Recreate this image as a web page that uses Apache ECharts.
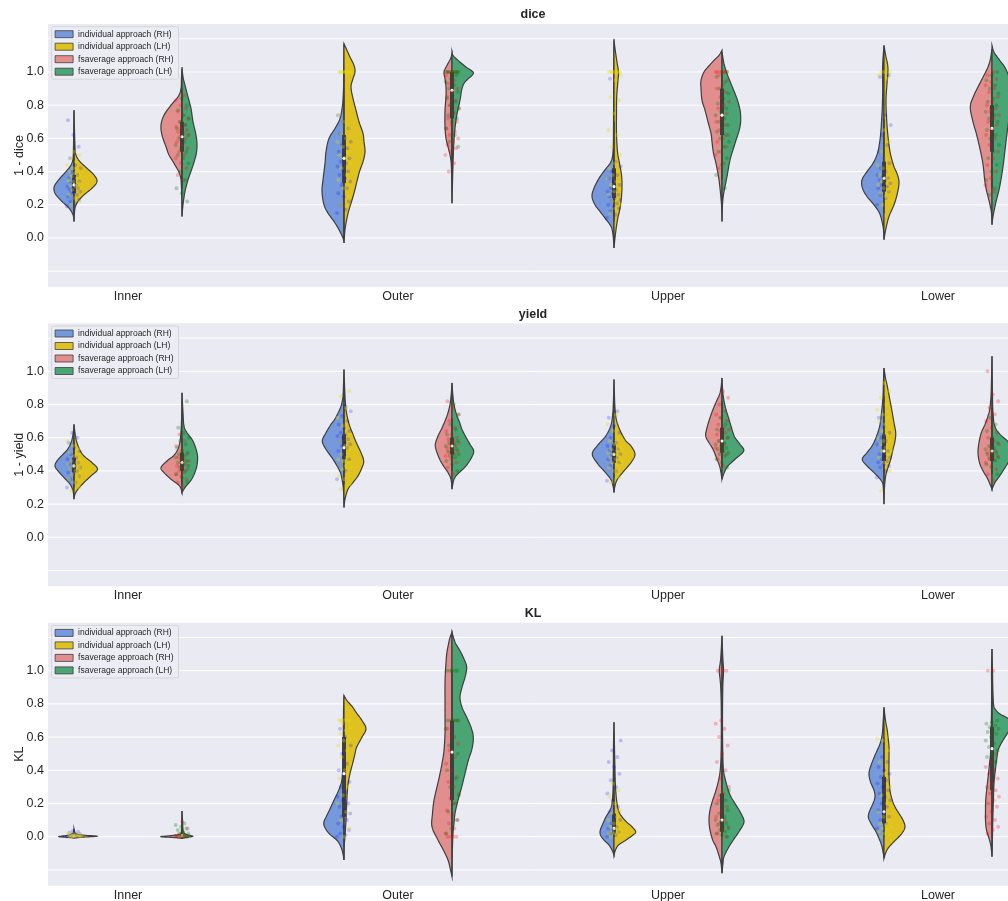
<!DOCTYPE html>
<html><head><meta charset="utf-8">
<script src="https://cdn.jsdelivr.net/npm/echarts@6/dist/echarts.min.js"></script>
<style>html,body{margin:0;padding:0;background:#fff}#chart{width:1008px;height:901px}</style>
</head><body><div id="chart"></div>
<script>
// ---------------- data ----------------
const categories = ['Inner', 'Outer', 'Upper', 'Lower'];
const panelTitles = ['dice', 'yield', 'KL'];
const yAxisNames = ['1 - dice', '1 - yield', 'KL'];
const yTickValues = [0, 0.2, 0.4, 0.6, 0.8, 1.0];
const gridValues = [-0.2, 0, 0.2, 0.4, 0.6, 0.8, 1.0, 1.2];
const seriesNames = ['individual approach (RH)', 'individual approach (LH)', 'fsaverage approach (RH)', 'fsaverage approach (LH)'];

// violin half profiles: per category, [value, density] pairs
const diceIndRH = [
  [[0.10,0],[0.14,1],[0.18,5],[0.22,12],[0.26,18],[0.29,20],[0.32,19],[0.36,14],[0.40,8],[0.44,3],[0.48,1],[0.55,0.5],[0.77,0]],
  [[-0.03,0],[0.0,1],[0.05,5],[0.10,10],[0.15,16],[0.20,20],[0.28,22],[0.35,21],[0.45,19],[0.52,18],[0.60,15],[0.66,9],[0.72,4],[0.80,1.5],[0.90,0.5],[1.0,0.3],[1.17,0]],
  [[-0.06,0],[0.02,1],[0.07,3],[0.12,9],[0.16,14],[0.20,19],[0.25,22],[0.30,20],[0.36,15],[0.41,9],[0.46,3],[0.52,1],[0.65,0.5],[1.0,0.3],[1.2,0]],
  [[-0.01,0],[0.05,0.5],[0.10,2],[0.15,4.5],[0.20,10],[0.25,17],[0.30,21.5],[0.35,22],[0.40,17],[0.45,11],[0.51,6.5],[0.57,4.5],[0.63,3.3],[0.70,2.5],[0.79,1.7],[0.90,1.3],[1.0,1.5],[1.08,1],[1.16,0]]
];
const diceIndLH = [
  [[0.10,0],[0.18,1],[0.22,4],[0.26,10],[0.30,18],[0.34,23],[0.38,20],[0.42,13],[0.46,6],[0.50,2],[0.55,1],[0.77,0]],
  [[-0.03,0],[0.05,1],[0.12,3],[0.17,5],[0.27,10],[0.39,15],[0.46,19],[0.52,21],[0.58,20],[0.63,19],[0.70,15],[0.77,12],[0.84,9],[0.91,7],[0.96,9],[1.0,11],[1.04,10],[1.09,6],[1.13,3],[1.17,0]],
  [[-0.06,0],[0.0,1],[0.05,2],[0.11,3.5],[0.18,6],[0.25,7.5],[0.32,8],[0.38,7.5],[0.45,5.5],[0.52,3.5],[0.63,2.5],[0.75,2.5],[0.85,2.7],[0.95,4],[1.0,4.5],[1.06,3],[1.12,1.5],[1.19,0]],
  [[-0.01,0],[0.05,1.7],[0.13,5],[0.20,10],[0.26,13],[0.33,15],[0.38,13.5],[0.43,10],[0.48,7.5],[0.53,5.7],[0.63,3.7],[0.73,2.5],[0.83,2],[0.93,3],[1.0,4],[1.05,3.5],[1.09,2],[1.16,0]]
];
const diceFsRH = [
  [[0.13,0],[0.30,0.5],[0.38,2],[0.45,8],[0.50,13],[0.55,16],[0.62,20],[0.68,21],[0.74,18],[0.80,11],[0.85,4],[0.90,1],[0.97,0.5],[1.02,0]],
  [[0.21,0],[0.35,0.3],[0.45,0.8],[0.50,2],[0.55,4],[0.60,6],[0.67,7],[0.77,7],[0.85,6],[0.91,6],[0.96,7],[1.0,8],[1.04,5],[1.08,1.5],[1.11,0]],
  [[0.10,0],[0.20,0.5],[0.30,2],[0.37,3.5],[0.45,6],[0.51,8.5],[0.58,10],[0.63,11],[0.70,14],[0.77,17],[0.83,20],[0.90,21],[0.95,21],[1.0,18],[1.03,14],[1.07,8],[1.10,3],[1.13,0]],
  [[0.08,0],[0.15,0.5],[0.20,2],[0.25,4],[0.30,6],[0.35,7.3],[0.42,8.5],[0.47,9.7],[0.55,12.5],[0.63,15.7],[0.70,19],[0.79,21.7],[0.86,18],[0.93,12.3],[0.98,8],[1.03,4],[1.08,1.5],[1.14,0]]
];
const diceFsLH = [
  [[0.13,0],[0.20,1],[0.28,3],[0.35,6],[0.42,10],[0.50,14],[0.56,15],[0.62,14],[0.70,11],[0.78,9],[0.85,6],[0.92,3],[0.97,1],[1.03,0]],
  [[0.21,0],[0.40,0.8],[0.53,1.5],[0.63,2.5],[0.73,4.5],[0.83,8],[0.90,10],[0.94,13],[0.98,20],[1.0,21],[1.03,14],[1.07,6],[1.10,1],[1.12,0]],
  [[0.10,0],[0.20,0.5],[0.27,1.7],[0.37,5],[0.47,8],[0.57,13],[0.67,18],[0.75,18.5],[0.82,16],[0.87,13],[0.93,9],[0.99,5],[1.05,2],[1.12,0]],
  [[0.08,0],[0.13,1],[0.21,3.7],[0.31,7.7],[0.43,11],[0.53,13],[0.63,15],[0.72,17],[0.80,19],[0.90,19],[0.97,17],[1.03,12.7],[1.07,7.7],[1.12,2],[1.16,0]]
];
const yieldIndRH = [
  [[0.23,0],[0.28,1],[0.32,4],[0.36,10],[0.40,16],[0.43,19],[0.46,17],[0.50,11],[0.53,6.5],[0.57,3],[0.62,1],[0.68,0]],
  [[0.18,0],[0.28,0.5],[0.35,2],[0.40,4.3],[0.47,11],[0.53,18],[0.58,21.7],[0.63,18],[0.68,13],[0.71,9.3],[0.76,5],[0.80,2.5],[0.85,1],[0.92,0.5],[1.01,0]],
  [[0.27,0],[0.31,1],[0.35,3.3],[0.40,10],[0.44,16],[0.50,21.7],[0.55,17],[0.61,8.3],[0.67,3.3],[0.73,1.5],[0.80,0.7],[0.95,0]],
  [[0.20,0],[0.30,0.7],[0.34,2.5],[0.39,10],[0.43,17],[0.47,21.7],[0.51,17],[0.55,12],[0.60,8],[0.67,4.3],[0.75,2.5],[0.85,1],[0.95,0.5],[1.02,0]]
];
const yieldIndLH = [
  [[0.23,0],[0.26,1],[0.29,4],[0.33,10],[0.37,17],[0.41,23.5],[0.45,18],[0.49,10],[0.53,5.5],[0.58,2.5],[0.63,1],[0.68,0]],
  [[0.18,0],[0.23,1],[0.29,4],[0.33,9],[0.37,14],[0.42,18],[0.46,19.7],[0.51,17],[0.57,12.3],[0.62,9],[0.67,5.7],[0.72,3.5],[0.77,2],[0.85,1],[1.01,0]],
  [[0.27,0],[0.31,1],[0.35,3.5],[0.40,10],[0.45,17],[0.50,21],[0.55,17],[0.58,12],[0.62,8],[0.67,4.3],[0.72,2],[0.80,0.8],[0.95,0]],
  [[0.20,0],[0.30,0.5],[0.37,1.7],[0.42,4],[0.47,6.7],[0.53,9],[0.58,11],[0.63,11.7],[0.69,10],[0.77,7.7],[0.84,5.5],[0.91,3.3],[0.96,1.5],[1.02,0]]
];
const yieldFsRH = [
  [[0.27,0],[0.31,2.5],[0.35,11],[0.39,18],[0.42,21],[0.46,15],[0.49,8.7],[0.52,5],[0.55,3],[0.60,1.5],[0.70,0.5],[0.87,0]],
  [[0.29,0],[0.35,1],[0.39,4],[0.43,8.5],[0.47,12.3],[0.52,15.5],[0.56,16.7],[0.61,14],[0.65,10.7],[0.70,7],[0.75,4],[0.80,2],[0.86,0.8],[0.93,0]],
  [[0.35,0],[0.42,2],[0.47,5],[0.53,9],[0.57,13],[0.61,16.3],[0.66,15],[0.72,12],[0.77,9],[0.82,5.5],[0.86,2.5],[0.90,1],[0.96,0]],
  [[0.29,0],[0.32,2],[0.36,5],[0.40,9],[0.45,12.5],[0.51,14],[0.57,13],[0.63,10.7],[0.68,7],[0.73,4],[0.77,2.3],[0.85,1],[0.95,0.5],[1.09,0]]
];
const yieldFsLH = [
  [[0.27,0],[0.30,3],[0.35,9.7],[0.41,14],[0.46,15.5],[0.50,15.3],[0.55,13],[0.59,10],[0.63,5],[0.67,2],[0.75,1],[0.87,0]],
  [[0.29,0],[0.34,1.5],[0.37,4],[0.40,9],[0.43,14],[0.48,19.5],[0.52,21.7],[0.56,18],[0.61,13.3],[0.65,10],[0.69,7.7],[0.74,4.5],[0.80,2],[0.86,0.8],[0.93,0]],
  [[0.35,0],[0.37,1],[0.40,3],[0.43,6],[0.47,13],[0.52,21.7],[0.56,18],[0.60,13],[0.63,11],[0.68,8.5],[0.73,6],[0.78,3.5],[0.84,1.5],[0.90,0.5],[0.96,0]],
  [[0.29,0],[0.33,3],[0.37,7.7],[0.42,13],[0.47,18],[0.52,20],[0.57,17],[0.62,8],[0.67,2.7],[0.75,1],[0.85,0.5],[1.09,0]]
];
const klIndRH = [
  [[-0.008,0],[-0.004,6],[0.0,15],[0.004,12],[0.01,5],[0.02,1.5],[0.03,0.5],[0.048,0]],
  [[-0.14,0],[-0.09,1.5],[-0.05,4],[-0.02,7.3],[0.02,15],[0.06,19.5],[0.09,20],[0.13,17],[0.18,13],[0.22,10],[0.27,6],[0.31,3.5],[0.35,2],[0.45,1],[0.60,0.7],[0.75,0.5],[0.85,0]],
  [[-0.11,0],[-0.08,2],[-0.05,5],[-0.02,10],[0.01,13.5],[0.04,13.7],[0.08,11],[0.12,8],[0.16,4],[0.20,2],[0.28,1],[0.40,0.7],[0.55,0.5],[0.69,0]],
  [[-0.13,0],[-0.09,1],[-0.05,2.5],[-0.01,5],[0.03,8],[0.08,13],[0.12,15.7],[0.16,14],[0.20,11],[0.24,9],[0.28,10],[0.33,13.5],[0.38,15],[0.43,13],[0.50,8.3],[0.56,4],[0.62,1.7],[0.70,0.8],[0.78,0]]
];
const klIndLH = [
  [[-0.008,0],[-0.003,8],[0.003,23],[0.008,12],[0.015,3],[0.025,1],[0.048,0]],
  [[-0.14,0],[-0.05,0.3],[0.0,1],[0.1,2],[0.2,2.7],[0.30,3.7],[0.38,6],[0.45,9],[0.50,11],[0.54,12.7],[0.60,18],[0.65,22],[0.70,18],[0.75,12],[0.78,8.7],[0.82,3],[0.85,0]],
  [[-0.11,0],[-0.08,1.5],[-0.05,4.5],[-0.02,12],[0.01,19],[0.03,21.7],[0.06,18],[0.09,12.3],[0.12,8],[0.15,5],[0.20,3],[0.30,1.5],[0.45,0.8],[0.69,0]],
  [[-0.13,0],[-0.10,1.5],[-0.07,4],[-0.04,8.3],[0.0,15],[0.03,19],[0.06,21],[0.10,19],[0.14,15],[0.18,11],[0.22,8.3],[0.28,6],[0.38,5],[0.46,5],[0.54,5],[0.60,4],[0.64,3.3],[0.70,1.5],[0.78,0]]
];
const klFsRH = [
  [[-0.01,0],[-0.005,8],[0.0,21],[0.005,14],[0.012,4],[0.02,1.2],[0.05,0.4],[0.1,0.2],[0.155,0]],
  [[-0.24,0],[-0.2,1.5],[-0.14,4],[-0.08,8.7],[-0.02,14],[0.06,20],[0.14,19.5],[0.22,18],[0.30,15],[0.36,12.7],[0.44,10],[0.52,8],[0.62,7],[0.72,7],[0.82,7],[0.92,7],[1.0,6.5],[1.10,5.3],[1.16,3.5],[1.2,2],[1.23,0]],
  [[-0.22,0],[-0.16,1],[-0.12,2.7],[-0.06,6],[-0.02,9.3],[0.04,12],[0.10,13],[0.16,12],[0.22,9.3],[0.28,6],[0.36,2.7],[0.45,1.2],[0.60,0.7],[0.80,0.8],[0.92,1.5],[1.0,2.7],[1.06,1.5],[1.12,0.8],[1.21,0]],
  [[-0.12,0],[-0.06,1],[-0.02,2.5],[0.04,5.5],[0.10,6.5],[0.16,6.5],[0.22,6.3],[0.30,5],[0.38,3.5],[0.44,2.5],[0.50,1.5],[0.60,1],[0.75,0.5],[0.90,0.4],[1.0,0.5],[1.13,0]]
];
const klFsLH = [
  [[-0.01,0],[-0.005,4],[0.002,10.7],[0.008,8],[0.015,4],[0.03,1.5],[0.06,0.8],[0.1,0.5],[0.155,0]],
  [[-0.24,0],[-0.1,0.3],[0.02,1],[0.08,2],[0.14,3],[0.22,6],[0.30,9.7],[0.38,13],[0.46,16.3],[0.53,20],[0.60,21.3],[0.66,19],[0.72,14.7],[0.78,10],[0.84,8],[0.90,10],[0.96,13],[1.02,14.7],[1.07,12],[1.12,8],[1.16,4],[1.19,2],[1.23,0]],
  [[-0.22,0],[-0.16,1],[-0.12,2],[-0.06,7],[-0.02,11.3],[0.04,18],[0.09,22],[0.14,19],[0.20,13],[0.24,9],[0.28,6.3],[0.34,3.5],[0.40,1.5],[0.50,0.8],[0.70,0.5],[0.90,0.8],[1.0,1.5],[1.08,0.8],[1.21,0]],
  [[-0.12,0],[-0.05,0.3],[0.10,0.8],[0.20,1.3],[0.32,2],[0.42,3.7],[0.48,5],[0.52,6],[0.56,9],[0.60,13],[0.65,18],[0.69,20],[0.72,14],[0.74,7.7],[0.77,3],[0.80,1.5],[0.90,0.8],[1.0,0.5],[1.13,0]]
];

// box stats per category: [whisker low, q1, median, q3, whisker high]
const diceBoxInd = [[0.14,0.27,0.32,0.38,0.52],[0.0,0.33,0.48,0.62,1.0],[0.1,0.24,0.31,0.42,0.7],[0.15,0.28,0.36,0.46,0.72]];
const diceBoxFs = [[0.3,0.52,0.61,0.7,0.9],[0.45,0.72,0.89,1.0,1.0],[0.35,0.62,0.74,0.9,1.0],[0.3,0.52,0.66,0.8,1.0]];
const yieldBoxInd = [[0.3,0.39,0.43,0.48,0.6],[0.32,0.47,0.54,0.62,0.8],[0.36,0.45,0.5,0.56,0.68],[0.36,0.46,0.52,0.62,0.85]];
const yieldBoxFs = [[0.32,0.4,0.45,0.51,0.6],[0.4,0.5,0.55,0.6,0.72],[0.42,0.51,0.58,0.66,0.82],[0.38,0.46,0.52,0.6,0.78]];
const klBoxInd = [[0,0.002,0.005,0.01,0.03],[0,0.12,0.38,0.6,0.7],[0,0.02,0.05,0.14,0.3],[0,0.08,0.15,0.36,0.6]];
const klBoxFs = [[0,0.002,0.006,0.015,0.04],[0,0.22,0.51,0.7,1.0],[0,0.03,0.1,0.26,0.55],[0.02,0.28,0.53,0.66,1.0]];

// individual observations (strip points), per category
const diceIndRHPts = [
  [0.19,0.21,0.22,0.23,0.24,0.25,0.26,0.27,0.28,0.28,0.29,0.30,0.30,0.31,0.32,0.33,0.34,0.35,0.36,0.38,0.40,0.42,0.44,0.48,0.55,0.62,0.71],
  [0.15,0.17,0.2,0.22,0.25,0.27,0.3,0.32,0.34,0.36,0.38,0.4,0.41,0.43,0.45,0.46,0.48,0.5,0.52,0.54,0.56,0.58,0.6,0.63,0.66,0.7,0.74],
  [0.12,0.14,0.16,0.18,0.19,0.2,0.21,0.22,0.23,0.24,0.25,0.26,0.27,0.28,0.29,0.3,0.32,0.34,0.36,0.38,0.4,0.43,0.46,0.96],
  [0.2,0.24,0.26,0.28,0.29,0.3,0.31,0.32,0.33,0.34,0.35,0.36,0.37,0.38,0.4,0.42,0.45,0.48,0.52,0.56,0.62,0.68,0.74,0.97,0.98]
];
const diceIndLHPts = [
  [0.2,0.22,0.24,0.26,0.28,0.29,0.3,0.31,0.32,0.33,0.34,0.35,0.36,0.37,0.38,0.39,0.4,0.41,0.42,0.44,0.46,0.48,0.5,0.52],
  [1,1,1,1,1,1,1,1,0.2,0.25,0.3,0.35,0.38,0.42,0.45,0.48,0.5,0.52,0.55,0.58,0.6,0.63,0.66,0.7,0.74,0.8],
  [1,1,1,1,1,1,0.98,0.95,0.85,0.83,0.75,0.65,0.62,0.55,0.5,0.45,0.42,0.4,0.38,0.36,0.34,0.32,0.3,0.28,0.26,0.24,0.22,0.2,0.18,0.15],
  [1,1,1,0.98,0.96,0.2,0.22,0.25,0.27,0.29,0.3,0.32,0.33,0.34,0.35,0.36,0.38,0.4,0.42,0.44,0.48,0.52,0.58,0.65]
];
const diceFsRHPts = [
  [0.35,0.38,0.42,0.45,0.48,0.5,0.52,0.54,0.56,0.58,0.6,0.61,0.62,0.63,0.64,0.65,0.66,0.67,0.68,0.7,0.72,0.74,0.76,0.78,0.8,0.83,0.86],
  [1,1,1,1,0.98,0.95,0.93,0.9,0.88,0.85,0.83,0.8,0.78,0.75,0.72,0.7,0.68,0.66,0.64,0.62,0.6,0.58,0.56,0.54,0.52,0.5,0.45,0.4],
  [1,1,1,1,1,1,0.98,0.95,0.92,0.9,0.88,0.85,0.82,0.8,0.78,0.75,0.72,0.7,0.68,0.65,0.62,0.6,0.58,0.55,0.52,0.5,0.45,0.42],
  [1,0.98,0.96,0.94,0.92,0.9,0.88,0.85,0.82,0.8,0.78,0.76,0.74,0.72,0.7,0.68,0.65,0.62,0.6,0.56,0.52,0.48,0.44,0.4,0.36,0.32,0.28]
];
const diceFsLHPts = [
  [0.22,0.27,0.3,0.35,0.4,0.45,0.48,0.5,0.52,0.54,0.56,0.58,0.6,0.62,0.64,0.66,0.68,0.7,0.72,0.74,0.77,0.8,0.84],
  [1,1,1,1,1,1,1,1,0.98,0.96,0.94,0.92,0.9,0.88,0.86,0.84,0.82,0.8,0.78,0.76,0.74,0.72,0.7,0.66,0.62,0.58,0.55],
  [1,1,0.97,0.94,0.9,0.87,0.84,0.81,0.78,0.76,0.74,0.72,0.7,0.68,0.66,0.64,0.62,0.6,0.58,0.55,0.52,0.48,0.44,0.38,0.3],
  [1,0.98,0.95,0.92,0.9,0.87,0.84,0.82,0.8,0.78,0.76,0.74,0.72,0.7,0.68,0.65,0.62,0.6,0.56,0.52,0.48,0.44,0.4,0.35,0.3,0.26]
];
const yieldIndRHPts = [
  [0.3,0.33,0.35,0.37,0.38,0.39,0.4,0.41,0.42,0.43,0.44,0.45,0.46,0.47,0.48,0.5,0.52,0.54,0.57,0.6,0.63],
  [0.35,0.4,0.44,0.47,0.5,0.52,0.54,0.55,0.56,0.57,0.58,0.59,0.6,0.61,0.62,0.63,0.64,0.66,0.68,0.7,0.73,0.76,0.79],
  [0.34,0.4,0.43,0.45,0.46,0.47,0.48,0.49,0.5,0.51,0.52,0.53,0.54,0.55,0.57,0.6,0.63,0.67,0.72,0.76],
  [0.36,0.4,0.42,0.43,0.44,0.45,0.46,0.47,0.48,0.49,0.5,0.52,0.54,0.56,0.58,0.6,0.63,0.67,0.72]
];
const yieldIndLHPts = [
  [0.28,0.3,0.33,0.35,0.37,0.38,0.39,0.4,0.41,0.42,0.43,0.44,0.45,0.46,0.47,0.49,0.51,0.53,0.55,0.58],
  [0.29,0.32,0.35,0.37,0.39,0.41,0.42,0.43,0.44,0.45,0.46,0.47,0.48,0.5,0.52,0.55,0.58,0.62,0.67,0.72,0.78,0.85,0.88],
  [0.33,0.36,0.4,0.42,0.44,0.45,0.46,0.47,0.48,0.49,0.5,0.51,0.52,0.53,0.54,0.56,0.58,0.6,0.64,0.68,0.74],
  [0.28,0.4,0.45,0.48,0.5,0.52,0.52,0.54,0.56,0.58,0.58,0.6,0.62,0.64,0.66,0.68,0.7,0.72,0.74,0.77,0.8,0.84,0.88,0.93]
];
const yieldFsRHPts = [
  [0.31,0.33,0.35,0.37,0.38,0.39,0.4,0.41,0.42,0.43,0.44,0.45,0.46,0.47,0.48,0.5,0.52,0.55,0.58,0.62],
  [0.38,0.42,0.45,0.47,0.49,0.5,0.51,0.52,0.53,0.54,0.55,0.56,0.57,0.58,0.59,0.6,0.62,0.64,0.66,0.7,0.74,0.78,0.82],
  [0.43,0.47,0.5,0.52,0.54,0.56,0.58,0.6,0.61,0.62,0.63,0.64,0.65,0.66,0.68,0.7,0.72,0.74,0.76,0.8,0.84,0.88],
  [0.34,0.38,0.41,0.43,0.45,0.47,0.48,0.49,0.5,0.51,0.52,0.54,0.56,0.58,0.6,0.63,0.66,0.7,0.74,0.78,0.82,0.86,1.0]
];
const yieldFsLHPts = [
  [0.33,0.36,0.38,0.4,0.42,0.43,0.44,0.45,0.46,0.47,0.48,0.49,0.5,0.51,0.52,0.54,0.56,0.58,0.6,0.63,0.66,0.82],
  [0.4,0.44,0.46,0.48,0.49,0.5,0.51,0.52,0.53,0.54,0.55,0.56,0.57,0.58,0.6,0.62,0.65,0.68,0.74,0.8],
  [0.42,0.45,0.47,0.49,0.5,0.51,0.52,0.53,0.54,0.55,0.56,0.57,0.58,0.6,0.62,0.65,0.68,0.72],
  [0.38,0.42,0.44,0.46,0.47,0.48,0.49,0.5,0.51,0.52,0.53,0.54,0.55,0.57,0.6,0.64,0.68,0.72]
];
const klIndRHPts = [
  [0.0,0.002,0.004,0.005,0.006,0.008,0.01,0.012,0.015,0.02,0.025,0.03,0.035],
  [0.0,0.01,0.02,0.04,0.06,0.08,0.1,0.12,0.14,0.16,0.18,0.2,0.22,0.24,0.27,0.3,0.33,0.36,0.4,0.44,0.5,0.55,0.6,0.65],
  [0.0,0.01,0.02,0.03,0.04,0.05,0.06,0.08,0.1,0.12,0.15,0.18,0.22,0.26,0.3,0.34,0.38,0.42,0.45,0.48,0.52,0.58],
  [0.05,0.08,0.1,0.12,0.14,0.16,0.18,0.2,0.22,0.24,0.26,0.28,0.3,0.32,0.34,0.36,0.38,0.4,0.42,0.45,0.48]
];
const klIndLHPts = [
  [0.0,0.001,0.002,0.003,0.004,0.005,0.006,0.008,0.01,0.012,0.015,0.02],
  [0.7,0.7,0.7,0.7,0.7,0.68,0.66,0.64,0.62,0.6,0.58,0.55,0.52,0.48,0.44,0.4,0.35,0.3,0.25,0.2,0.15,0.1,0.05,0.0],
  [0.0,0.01,0.02,0.02,0.03,0.03,0.04,0.05,0.06,0.07,0.08,0.1,0.12,0.14,0.16,0.2,0.24,0.28,0.32],
  [0.0,0.01,0.02,0.03,0.04,0.05,0.06,0.07,0.08,0.1,0.12,0.15,0.2,0.25,0.3,0.38,0.45,0.52,0.58,0.59,0.6]
];
const klFsRHPts = [
  [0.0,0.0,0.002,0.004,0.006,0.01,0.02,0.05,0.09],
  [0.0,0.0,0.0,0.0,0.02,0.05,0.08,0.1,0.13,0.16,0.2,0.23,0.26,0.3,0.33,0.36,0.4,0.44,0.48,0.52,0.56,0.6,0.65,0.7],
  [1.0,1.0,1.0,0.7,0.68,0.65,0.6,0.55,0.5,0.45,0.4,0.35,0.3,0.26,0.22,0.18,0.15,0.12,0.1,0.08,0.06,0.04,0.02,0.0],
  [1.0,1.0,0.5,0.45,0.42,0.4,0.38,0.35,0.32,0.3,0.28,0.26,0.24,0.22,0.2,0.18,0.15,0.12,0.1,0.08,0.06,0.04,0.02]
];
const klFsLHPts = [
  [0.0,0.002,0.005,0.01,0.015,0.02,0.03,0.04,0.05,0.06,0.07,0.08],
  [1.0,1.0,1.0,1.0,1.0,0.7,0.7,0.7,0.7,0.7,0.65,0.6,0.55,0.5,0.45,0.4,0.35,0.3,0.25,0.2,0.15,0.1,0.05,0.02],
  [0.0,0.01,0.02,0.03,0.04,0.05,0.06,0.07,0.08,0.09,0.1,0.12,0.14,0.16,0.18,0.2,0.22,0.25,0.28],
  [0.7,0.69,0.68,0.67,0.66,0.65,0.64,0.63,0.62,0.6,0.58,0.56,0.54,0.52,0.5,0.48,0.45]
];

// ---------------- assembly ----------------
const profiles = [
  [diceIndRH, diceIndLH, diceFsRH, diceFsLH],
  [yieldIndRH, yieldIndLH, yieldFsRH, yieldFsLH],
  [klIndRH, klIndLH, klFsRH, klFsLH]
];
const points = [
  [diceIndRHPts, diceIndLHPts, diceFsRHPts, diceFsLHPts],
  [yieldIndRHPts, yieldIndLHPts, yieldFsRHPts, yieldFsLHPts],
  [klIndRHPts, klIndLHPts, klFsRHPts, klFsLHPts]
];
const boxes = [[diceBoxInd, diceBoxFs], [yieldBoxInd, yieldBoxFs], [klBoxInd, klBoxFs]];

const FONT = 'Liberation Sans, Arial, sans-serif';
const TEXT = '#262626';
const EDGE = '#3f3f3f';
const DENSITY_TO_X = 1 / 270;
const JITTER = 0.026;
const X_MIN = -0.2963, X_MAX = 3.2963;
const Y_MIN = -0.295, Y_MAX = 1.289;
const groupOffset = [-0.2, -0.2, 0.2, 0.2];
const groupSide = [-1, 1, -1, 1];
const fills = ['#7599dc', '#dfc220', '#e28e8e', '#4ba473'];
const pointColors = ['rgba(0,0,255,0.25)', 'rgba(230,220,0,0.4)', 'rgba(255,0,0,0.3)', 'rgba(0,120,0,0.35)'];
const gridTops = [24, 323.3, 622.7];
const GRID_H = 263;

function smoothOutline(pts) {
  const out = [];
  const n = pts.length;
  for (let i = 0; i < n - 1; i++) {
    const p0 = pts[Math.max(i - 1, 0)], p1 = pts[i], p2 = pts[i + 1], p3 = pts[Math.min(i + 2, n - 1)];
    for (let s = 0; s < 8; s++) {
      const t = s / 8, t2 = t * t, t3 = t2 * t;
      const f = (a, b, c, d) => 0.5 * (2 * b + (-a + c) * t + (2 * a - 5 * b + 4 * c - d) * t2 + (-a + 3 * b - 3 * c + d) * t3);
      out.push([f(p0[0], p1[0], p2[0], p3[0]), f(p0[1], p1[1], p2[1], p3[1])]);
    }
  }
  out.push(pts[n - 1]);
  return out;
}

const series = [];
const grids = [], xAxes = [], yAxes = [], legends = [], graphics = [];

for (let p = 0; p < 3; p++) {
  grids.push({left: 48, top: gridTops[p], width: 970, height: GRID_H, show: true, backgroundColor: '#eaeaf2', borderWidth: 0, containLabel: false, outerBoundsMode: 'none'});
  xAxes.push({
    type: 'value', gridIndex: p, min: X_MIN, max: X_MAX,
    axisLine: {show: false}, axisTick: {show: false}, splitLine: {show: false},
    axisLabel: {customValues: [0, 1, 2, 3], formatter: v => categories[Math.round(v)], fontSize: 12.5, color: TEXT, fontFamily: FONT, margin: 3}
  });
  yAxes.push({
    type: 'value', gridIndex: p, min: Y_MIN, max: Y_MAX,
    axisLine: {show: false}, axisTick: {show: false}, splitLine: {show: false},
    axisLabel: {customValues: yTickValues, formatter: v => v.toFixed(1), fontSize: 12.5, color: TEXT, fontFamily: FONT, margin: 4},
    name: yAxisNames[p], nameLocation: 'middle', nameGap: 22, nameMoveOverlap: false,
    nameTextStyle: {fontSize: 12.5, color: TEXT, fontFamily: FONT}
  });
  legends.push({
    left: 51.7, top: gridTops[p] + 2.7, orient: 'vertical',
    itemWidth: 18, itemHeight: 7, itemGap: 3.5,
    padding: [3, 5, 3, 3], backgroundColor: 'rgba(236,236,244,0.8)', borderColor: '#d4d4da', borderWidth: 1, borderRadius: 2,
    selectedMode: false,
    textStyle: {fontSize: 8.5, lineHeight: 9, color: TEXT, fontFamily: FONT},
    data: seriesNames.map((n, g) => ({name: n, icon: 'rect', itemStyle: {color: fills[g], borderColor: EDGE, borderWidth: 0.8}}))
  });
  graphics.push({type: 'text', x: 533, y: gridTops[p] - 9, style: {text: panelTitles[p], fill: TEXT, font: 'bold 12.5px ' + FONT, textAlign: 'center', textVerticalAlign: 'middle'}});

  // gridlines
  series.push({
    type: 'custom', xAxisIndex: p, yAxisIndex: p, z: 1, silent: true,
    data: gridValues.map(v => [v]),
    renderItem: (params, api) => {
      const v = api.value(0);
      const a = api.coord([X_MIN, v]), b = api.coord([X_MAX, v]);
      return {type: 'line', shape: {x1: a[0], y1: a[1], x2: b[0], y2: b[1]}, style: {stroke: '#ffffff', lineWidth: 1}};
    }
  });

  // violin halves
  for (let g = 0; g < 4; g++) {
    series.push({
      name: seriesNames[g], type: 'custom', xAxisIndex: p, yAxisIndex: p, z: 2,
      itemStyle: {color: fills[g]},
      data: categories.map((c, i) => [i]),
      renderItem: (params, api) => {
        const ci = api.value(0);
        const prof = profiles[p][g][ci];
        const xc = ci + groupOffset[g];
        const side = groupSide[g];
        const xcPx = api.coord([xc, 0])[0];
        const raw = prof.map(d => api.coord([xc + side * d[1] * DENSITY_TO_X, d[0]]));
        const pts = smoothOutline(raw).map(q => [side < 0 ? Math.min(q[0], xcPx) : Math.max(q[0], xcPx), q[1]]);
        return {type: 'polygon', shape: {points: pts}, style: {fill: fills[g], stroke: EDGE, lineWidth: 1.2}};
      }
    });
  }

  // inner boxes
  series.push({
    type: 'custom', xAxisIndex: p, yAxisIndex: p, z: 3, silent: true,
    data: [].concat(...categories.map((c, i) => [[i, 0], [i, 1]])),
    renderItem: (params, api) => {
      const ci = api.value(0), k = api.value(1);
      const st = boxes[p][k][ci];
      const xc = ci + (k ? 0.2 : -0.2);
      const lo = api.coord([xc, st[0]]), q1 = api.coord([xc, st[1]]), md = api.coord([xc, st[2]]), q3 = api.coord([xc, st[3]]), hi = api.coord([xc, st[4]]);
      return {type: 'group', children: [
        {type: 'line', shape: {x1: lo[0], y1: lo[1], x2: hi[0], y2: hi[1]}, style: {stroke: EDGE, lineWidth: 1.3}},
        {type: 'line', shape: {x1: q1[0], y1: q1[1], x2: q3[0], y2: q3[1]}, style: {stroke: EDGE, lineWidth: 4}},
        {type: 'circle', shape: {cx: md[0], cy: md[1], r: 1.6}, style: {fill: '#ffffff'}}
      ]};
    }
  });

  // strip points
  for (let g = 0; g < 4; g++) {
    const data = [];
    points[p][g].forEach((vals, ci) => {
      vals.forEach((v, k) => {
        const j = ((k * 0.618034 + g * 0.29) % 1 - 0.5) * 2 * JITTER;
        data.push([ci + groupOffset[g] + j, v]);
      });
    });
    series.push({
      type: 'scatter', xAxisIndex: p, yAxisIndex: p, z: 4, silent: true,
      symbolSize: 4, itemStyle: {color: pointColors[g]}, data
    });
  }
}

const chart = echarts.init(document.getElementById('chart'), null, {renderer: 'canvas'});
chart.setOption({
  animation: false,
  backgroundColor: '#ffffff',
  textStyle: {fontFamily: FONT},
  grid: grids, xAxis: xAxes, yAxis: yAxes, legend: legends,
  graphic: graphics,
  series
});
</script>
</body></html>
